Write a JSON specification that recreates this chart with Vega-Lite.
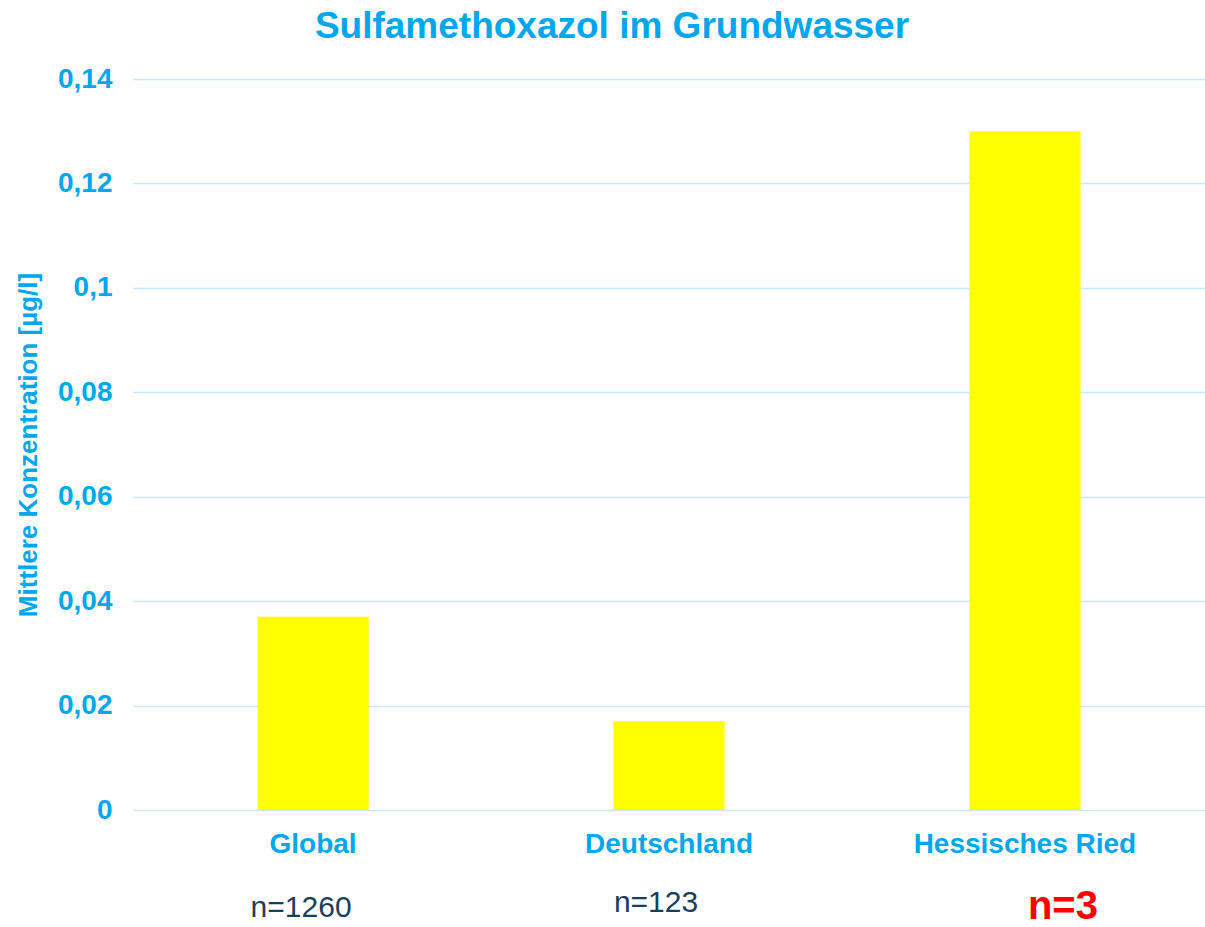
{
  "$schema": "https://vega.github.io/schema/vega-lite/v6.json",
  "autosize": "none",
  "padding": {"left": 133, "top": 79, "right": 0, "bottom": 117},
  "width": 1072,
  "height": 731,
  "background": "white",
  "config": {
    "font": "Liberation Sans",
    "view": {"stroke": null}
  },
  "title": {
    "text": "Sulfamethoxazol im Grundwasser",
    "font": "Liberation Sans",
    "fontSize": 37,
    "fontWeight": "bold",
    "color": "#00A6EE",
    "anchor": "middle",
    "frame": "group",
    "dx": -57,
    "offset": 19
  },
  "data": {
    "values": [
      {"region": "Global", "value": 0.037, "n": "n=1260"},
      {"region": "Deutschland", "value": 0.017, "n": "n=123"},
      {"region": "Hessisches Ried", "value": 0.13, "n": "n=3"}
    ]
  },
  "encoding": {
    "x": {
      "field": "region",
      "type": "nominal",
      "sort": null,
      "scale": {"paddingInner": 0.688, "paddingOuter": 0.35},
      "axis": {
        "title": null,
        "labelAngle": 0,
        "labelFont": "Liberation Sans",
        "labelFontSize": 28,
        "labelFontWeight": "bold",
        "labelColor": "#00A6EE",
        "labelPadding": 20,
        "labelLimit": 500,
        "ticks": false,
        "domain": false
      }
    }
  },
  "layer": [
    {
      "mark": {"type": "bar", "color": "#FFFF00"},
      "encoding": {
        "y": {
          "field": "value",
          "type": "quantitative",
          "scale": {"domain": [0, 0.14], "nice": false},
          "axis": {
            "title": "Mittlere Konzentration [µg/l]",
            "titleFont": "Liberation Sans",
            "titleFontSize": 26,
            "titleFontWeight": "bold",
            "titleColor": "#00A6EE",
            "titlePadding": 16,
            "values": [0, 0.02, 0.04, 0.06, 0.08, 0.1, 0.12, 0.14],
            "labelExpr": "replace(format(datum.value, '.2~f'), '.', ',')",
            "labelFont": "Liberation Sans",
            "labelFontSize": 28,
            "labelFontWeight": "bold",
            "labelColor": "#00A6EE",
            "labelPadding": 21,
            "ticks": false,
            "domain": false,
            "grid": true,
            "gridColor": "#C9E7F7",
            "gridWidth": 1.5
          }
        }
      }
    },
    {
      "transform": [{"filter": "datum.region === 'Global'"}],
      "mark": {
        "type": "text",
        "fontSize": 30,
        "color": "#17405E",
        "baseline": "middle",
        "dx": -12,
        "dy": 98
      },
      "encoding": {
        "y": {"datum": 0, "type": "quantitative"},
        "text": {"field": "n"}
      }
    },
    {
      "transform": [{"filter": "datum.region === 'Deutschland'"}],
      "mark": {
        "type": "text",
        "fontSize": 30,
        "color": "#17405E",
        "baseline": "middle",
        "dx": -13,
        "dy": 93
      },
      "encoding": {
        "y": {"datum": 0, "type": "quantitative"},
        "text": {"field": "n"}
      }
    },
    {
      "transform": [{"filter": "datum.region === 'Hessisches Ried'"}],
      "mark": {
        "type": "text",
        "fontSize": 40,
        "fontWeight": "bold",
        "color": "#FF0000",
        "baseline": "middle",
        "dx": 38,
        "dy": 97
      },
      "encoding": {
        "y": {"datum": 0, "type": "quantitative"},
        "text": {"field": "n"}
      }
    }
  ]
}
